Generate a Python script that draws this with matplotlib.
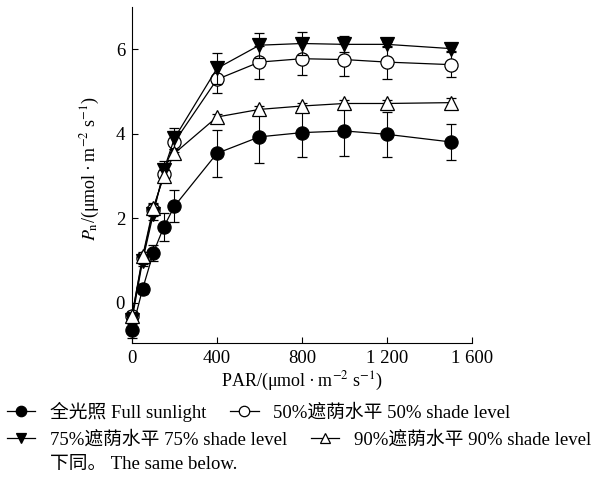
import matplotlib
matplotlib.use('Agg')
import matplotlib.pyplot as plt
from matplotlib.lines import Line2D

plt.rcParams['font.family'] = ['Liberation Serif', 'Noto Sans CJK SC']
plt.rcParams['mathtext.fontset'] = 'stix'
plt.rcParams['font.size'] = 13.5

# PAR levels (umol m-2 s-1)
par = [0, 50, 100, 150, 200, 400, 600, 800, 1000, 1200, 1500]

full_sun = [-0.64, 0.33, 1.18, 1.80, 2.29, 3.54, 3.93, 4.03, 4.07, 3.99, 3.81]
full_sun_err = [0.19, 0.12, 0.20, 0.33, 0.37, 0.55, 0.61, 0.58, 0.60, 0.53, 0.42]

shade50 = [-0.30, 1.05, 2.20, 3.05, 3.81, 5.29, 5.70, 5.78, 5.76, 5.70, 5.64]
shade50_err = [0.10, 0.12, 0.15, 0.20, 0.25, 0.33, 0.39, 0.39, 0.38, 0.39, 0.30]

shade75 = [-0.40, 1.00, 2.10, 3.15, 3.90, 5.55, 6.10, 6.14, 6.12, 6.12, 6.02]
shade75_err = [0.10, 0.12, 0.15, 0.20, 0.25, 0.37, 0.30, 0.27, 0.19, 0.06, 0.06]

shade90 = [-0.30, 1.10, 2.25, 3.00, 3.54, 4.40, 4.58, 4.66, 4.72, 4.72, 4.74]
shade90_err = [0.08, 0.10, 0.12, 0.15, 0.10, 0.08, 0.08, 0.08, 0.08, 0.08, 0.10]

labels = ['全光照 Full sunlight', '50%遮荫水平 50% shade level',
          '75%遮荫水平 75% shade level', '90%遮荫水平 90% shade level']
x_ticks = [0, 400, 800, 1200, 1600]
x_tick_labels = ['0', '400', '800', '1 200', '1 600']
y_ticks = [0, 2, 4, 6]

fig = plt.figure(figsize=(5.92, 4.79), dpi=100)
ax = fig.add_axes([0.223, 0.284, 0.574, 0.701])

styles = [
    (full_sun, full_sun_err, 'o', 'black'),
    (shade50, shade50_err, 'o', 'white'),
    (shade75, shade75_err, 'v', 'black'),
    (shade90, shade90_err, '^', 'white'),
]
handles = []
for i, (vals, err, mk, fc) in enumerate(styles):
    ax.errorbar(par, vals, yerr=err, color='black', ecolor='black', elinewidth=0.8,
                capsize=3.5, capthick=0.8, lw=0.9, marker=mk, ms=9.5, mfc=fc,
                mec='black', mew=0.9, zorder=3 + i, clip_on=False)
    handles.append(Line2D([], [], color='black', lw=0.9, marker=mk, ms=7.5,
                          mfc=fc, mec='black', mew=0.9))

ax.set_xlim(0, 1600)
ax.set_ylim(-0.95, 7.0)
ax.set_xticks(x_ticks)
ax.set_xticklabels(x_tick_labels)
ax.set_yticks(y_ticks)
ax.tick_params(direction='in', length=4, width=0.8, labelsize=13.5, pad=5)
for side in ['top', 'right']:
    ax.spines[side].set_visible(False)
for side in ['left', 'bottom']:
    ax.spines[side].set_linewidth(0.8)

ax.set_xlabel('PAR/(μmol\u2009·\u2009m$^{-2}$ s$^{-1}$)', fontsize=13, labelpad=2)
ax.set_ylabel(r'$P_\mathrm{n}$/(μmol' + '\u2009·\u2009' + r'm$^{-2}$ s$^{-1}$)', fontsize=13)
ax.yaxis.set_label_coords(-0.088, 0.52)

# legend rows below the plot
leg_kw = dict(loc='center left', ncol=2, frameon=False, borderpad=0, borderaxespad=0,
              handlelength=1.5, handletextpad=0.77, columnspacing=1.3, fontsize=13.5)
fig.legend(handles[:2], labels[:2], bbox_to_anchor=(0.012, 0.140), **leg_kw)
fig.legend(handles[2:], labels[2:], bbox_to_anchor=(0.012, 0.081), **leg_kw)
fig.text(0.084, 0.031, '下同。 The same below.', fontsize=13.5, va='center', ha='left')

fig.savefig('out.png', dpi=100)
